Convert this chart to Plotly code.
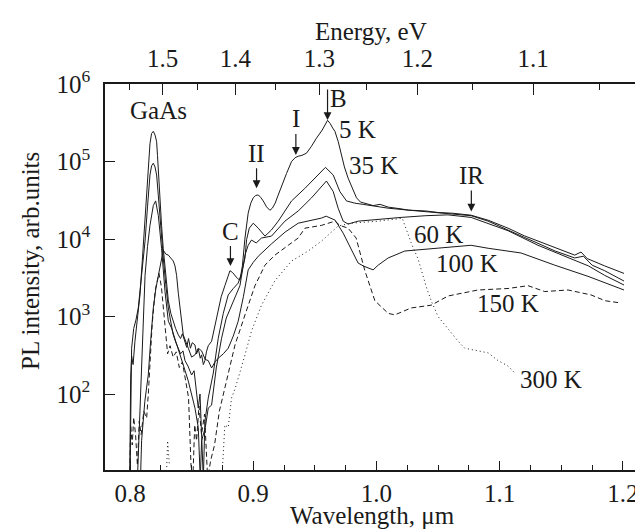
import plotly.graph_objects as go

# ---------------- data ----------------
wl_5K = [0.7998, 0.8005, 0.8013, 0.8025, 0.804, 0.806, 0.8081, 0.8102, 0.8122, 0.8135, 0.8148, 0.8162,
         0.8175, 0.8189, 0.8203, 0.8216, 0.8223, 0.8243, 0.8256, 0.827, 0.8284, 0.8297, 0.8311, 0.8331,
         0.8351, 0.837, 0.8392, 0.841, 0.8425, 0.8446, 0.846, 0.8475, 0.849, 0.8505, 0.8527, 0.854,
         0.8555, 0.857, 0.8581, 0.8595, 0.8608, 0.862, 0.8635, 0.8662, 0.869, 0.8716, 0.874, 0.877,
         0.879, 0.8811, 0.8832, 0.8852, 0.8872, 0.8892, 0.8912, 0.8933, 0.8946, 0.8959, 0.898, 0.9,
         0.902, 0.9041, 0.906, 0.9081, 0.9108, 0.9135, 0.9155, 0.9178, 0.92, 0.923, 0.927, 0.9311,
         0.934, 0.9365, 0.9395, 0.9432, 0.947, 0.9513, 0.956, 0.9603, 0.9624, 0.9645, 0.9663, 0.969,
         0.9716, 0.974, 0.977, 0.9805, 0.9838, 0.987, 0.9906, 0.9973, 1.003, 1.0095, 1.02, 1.0257,
         1.04, 1.05, 1.062, 1.0768, 1.0906, 1.1068, 1.12, 1.1311, 1.1473, 1.1609, 1.166, 1.171,
         1.1852, 1.2009]
I_5K = [8, 160, 310, 240, 480, 900, 1900, 6000, 1.86e4, 4.5e4, 1.0e5, 1.7e5,
        2.3e5, 2.45e5, 2.2e5, 1.8e5, 1.2e5, 3.0e4, 1.5e4, 7.5e3, 4.2e3, 2.5e3, 1.6e3, 1.1e3,
        870, 700, 580, 520, 600, 480, 400, 520, 390, 460, 430, 330,
        380, 290, 320, 240, 270, 350, 420, 480, 800, 1290, 1800, 2500,
        3200, 3900, 3700, 3400, 3100, 2950, 4500, 1.03e4, 1.6e4, 2.16e4, 2.9e4, 3.4e4,
        3.65e4, 3.7e4, 3.45e4, 3.1e4, 2.6e4, 2.35e4, 2.5e4, 2.9e4, 3.6e4, 4.9e4, 7.0e4, 1.0e5,
        1.12e5, 1.17e5, 1.2e5, 1.28e5, 1.55e5, 2.0e5, 2.55e5, 3.4e5, 3.1e5, 2.7e5, 2.45e5, 1.8e5,
        1.2e5, 8.5e4, 6.1e4, 4.4e4, 3.4e4, 3.0e4, 2.9e4, 2.7e4, 2.8e4, 2.58e4, 2.45e4, 2.36e4,
        2.3e4, 2.2e4, 2.15e4, 2.03e4, 1.75e4, 1.38e4, 1.1e4, 9.4e3, 7.6e3, 6.2e3, 6.8e3, 5.6e3,
        4.5e3, 3.6e3]

wl_35K = [0.8, 0.8008, 0.8013, 0.803, 0.8048, 0.8067, 0.8095, 0.8122, 0.8142, 0.8162, 0.8175, 0.8189,
          0.8203, 0.8216, 0.823, 0.8243, 0.8256, 0.827, 0.829, 0.8311, 0.8331, 0.8351, 0.837, 0.8392,
          0.841, 0.843, 0.8446, 0.847, 0.85, 0.852, 0.8538, 0.8554, 0.8568, 0.8581, 0.8595, 0.8608,
          0.8622, 0.8635, 0.8676, 0.8716, 0.8757, 0.8797, 0.8838, 0.8878, 0.8905, 0.8933, 0.8946, 0.8968,
          0.9, 0.9041, 0.9095, 0.9146, 0.9203, 0.9311, 0.9419, 0.9527, 0.9586, 0.9649, 0.9703, 0.9757,
          0.9825, 0.9892, 1.0095, 1.0257, 1.05, 1.0768, 1.0906, 1.1068, 1.12, 1.1311, 1.145, 1.1609,
          1.168, 1.175, 1.1852, 1.2009]
I_35K = [8, 200, 390, 700, 900, 1290, 3500, 9400, 2.6e4, 6.7e4, 8.8e4, 9.5e4,
         8.5e4, 6.7e4, 3.6e4, 1.86e4, 1.0e4, 5.7e3, 2.6e3, 1.29e3, 850, 580, 470, 390,
         330, 360, 270, 230, 176, 200, 120, 66, 100, 25, 8, 45,
         70, 89, 187, 525, 1100, 1900, 2300, 2700, 3600, 5700, 9800, 1.38e4,
         1.6e4, 1.38e4, 1.09e4, 1.3e4, 1.7e4, 3.1e4, 4.5e4, 6.7e4, 8.4e4, 6.7e4, 4.1e4, 3.1e4,
         2.9e4, 2.8e4, 2.5e4, 2.36e4, 2.16e4, 2.0e4, 1.7e4, 1.32e4, 1.05e4, 8.8e3, 7.0e3, 5.7e3,
         6.0e3, 4.6e3, 3.9e3, 2.87e3]

wl_60K = [0.806, 0.8094, 0.8108, 0.8122, 0.8142, 0.8162, 0.8189, 0.8208, 0.823, 0.8256, 0.8284, 0.8311,
          0.8337, 0.8365, 0.8392, 0.8419, 0.8447, 0.8473, 0.85, 0.8527, 0.8554, 0.857, 0.8581, 0.8611,
          0.8635, 0.8662, 0.87, 0.8743, 0.8781, 0.8824, 0.8862, 0.8892, 0.8933, 0.8959, 0.8986, 0.9024,
          0.9067, 0.9148, 0.9257, 0.9365, 0.9473, 0.9554, 0.9594, 0.9649, 0.9689, 0.973, 0.977, 0.9851,
          0.9932, 1.0014, 1.02, 1.04, 1.058, 1.0768, 1.0906, 1.1068, 1.1311, 1.1609, 1.172, 1.1852,
          1.2009]
I_60K = [8, 176, 900, 3400, 8000, 1.5e4, 2.7e4, 3.1e4, 2.0e4, 7.6e3, 2.1e3, 870,
         710, 520, 390, 270, 200, 147, 100, 66, 37, 8, 25, 37,
         66, 72, 217, 525, 955, 1400, 2000, 2500, 6200, 8300, 9700, 8900,
         1.03e4, 1.09e4, 1.7e4, 2.3e4, 3.4e4, 4.8e4, 5.6e4, 4.1e4, 2.5e4, 1.7e4, 1.56e4, 1.7e4,
         1.75e4, 1.8e4, 1.9e4, 2.0e4, 2.05e4, 1.9e4, 1.6e4, 1.28e4, 8.3e3, 5.3e3, 4.5e3, 3.4e3,
         2.55e3]

wl_100K = [0.8085, 0.8094, 0.812, 0.8148, 0.8168, 0.8189, 0.821, 0.823, 0.825, 0.827, 0.829, 0.8311,
           0.833, 0.8351, 0.8365, 0.8378, 0.8392, 0.8406, 0.8432, 0.8473, 0.85, 0.8527, 0.8554, 0.8581,
           0.861, 0.8635, 0.8662, 0.869, 0.8716, 0.8757, 0.8797, 0.8838, 0.8878, 0.892, 0.8959, 0.9,
           0.9041, 0.9146, 0.9259, 0.9365, 0.947, 0.9552, 0.9592, 0.9665, 0.973, 0.977, 0.9811, 0.9851,
           0.9892, 0.9932, 0.9973, 1.0014, 1.0095, 1.023, 1.05, 1.0768, 1.0906, 1.1174, 1.1447, 1.1717,
           1.2009]
I_100K = [8, 25, 80, 176, 500, 1290, 2300, 3400, 5000, 7200, 6400, 6200,
          5700, 5200, 4500, 3400, 2000, 1290, 580, 390, 300, 320, 390, 360,
          280, 270, 217, 260, 290, 330, 390, 560, 870, 1800, 4000, 5000,
          6000, 8600, 1.23e4, 1.6e4, 1.75e4, 1.86e4, 1.97e4, 1.75e4, 1.19e4, 8900, 6600, 4900,
          4500, 4200, 4000, 4600, 5700, 7000, 7600, 8300, 7600, 6600, 4600, 3300,
          2200]

wl_150K = [0.7998, 0.8005, 0.8018, 0.803, 0.8045, 0.806, 0.8075, 0.809, 0.8112, 0.8135, 0.815, 0.8165,
           0.818, 0.8205, 0.8235, 0.8255, 0.828, 0.8305, 0.8325, 0.835, 0.8375, 0.84, 0.8425, 0.845,
           0.8475, 0.8495, 0.851, 0.8525, 0.854, 0.856, 0.858, 0.8605, 0.863, 0.8655, 0.8686, 0.8725,
           0.877, 0.881, 0.8852, 0.8933, 0.9014, 0.9095, 0.9176, 0.9284, 0.9365, 0.9419, 0.9554, 0.9663,
           0.9703, 0.977, 0.9835, 0.9906, 0.9987, 1.0095, 1.0149, 1.0281, 1.0444, 1.0581, 1.0824, 1.1068,
           1.123, 1.1366, 1.1555, 1.1741, 1.1855, 1.1977]
I_150K = [8, 40, 22, 50, 30, 12, 45, 30, 60, 49, 110, 300,
          800, 2200, 3600, 2400, 900, 330, 420, 300, 350, 220, 260, 150,
          90, 12, 8, 40, 25, 70, 30, 55, 8, 14, 22, 60,
          120, 230, 430, 1050, 2500, 4600, 6200, 8300, 1.03e4, 1.38e4, 1.5e4, 1.7e4,
          1.5e4, 1.38e4, 1.03e4, 3900, 1600, 1100, 1050, 1290, 1400, 1840, 2200, 2300,
          2500, 2100, 2200, 1900, 1600, 1500]

wl_300K = [0.8295, 0.8305, 0.832, None, 0.8745, 0.877, 0.8797, 0.8824, 0.8855, 0.8892, 0.8933, 0.8986,
           0.9067, 0.9176, 0.9311, 0.9446, 0.9554, 0.9689, 0.9795, 1.0014, 1.021, 1.0281, 1.0338, 1.0405,
           1.0444, 1.05, 1.0663, 1.0717, 1.0825, 1.0906, 1.0987, 1.1068, 1.1122]
I_300K = [8, 25, 12, None, 8, 40, 37, 89, 120, 187, 320, 650,
          1400, 2900, 5200, 7000, 9400, 1.47e4, 1.6e4, 1.7e4, 1.85e4, 9000, 5500, 2400,
          1600, 1000, 480, 390, 360, 340, 270, 230, 187]

wavelength_ticks = [0.8, 0.9, 1.0, 1.1, 1.2]
wavelength_ticktext = ["0.8", "0.9", "1.0", "1.1", "1.2"]
intensity_ticks = [1e2, 1e3, 1e4, 1e5, 1e6]
intensity_ticktext = ["10<sup>2</sup>", "10<sup>3</sup>", "10<sup>4</sup>", "10<sup>5</sup>", "10<sup>6</sup>"]
energy_ticks = [1.5, 1.4, 1.3, 1.2, 1.1]
energy_ticktext = ["1.5", "1.4", "1.3", "1.2", "1.1"]
energy_minor = [1.55, 1.45, 1.35, 1.25, 1.15, 1.05]
HC = 1.2398  # eV*um

# ---------------- figure ----------------
INK = "#1a1a1a"
FONT = "Liberation Serif"
fig = go.Figure()

series = [
    (wl_5K, I_5K, "solid"),
    (wl_35K, I_35K, "solid"),
    (wl_60K, I_60K, "solid"),
    (wl_100K, I_100K, "solid"),
    (wl_150K, I_150K, "5px,3px"),
    (wl_300K, I_300K, "1px,3px"),
]
for wl, I, dash in series:
    fig.add_trace(go.Scatter(x=wl, y=I, mode="lines", showlegend=False, hoverinfo="skip",
                             line=dict(color=INK, width=1, dash=dash)))

XR = [0.7797, 1.2155]
axis_common = dict(showline=True, linecolor=INK, linewidth=1.6, showgrid=False, zeroline=False,
                   tickcolor=INK, tickfont=dict(family=FONT, size=25, color=INK))

fig.update_layout(
    width=643, height=530,
    margin=dict(l=97, r=9, t=76, b=68, autoexpand=False),
    paper_bgcolor="white", plot_bgcolor="white",
    font=dict(family=FONT, size=25, color=INK),
    xaxis=dict(range=XR, tickvals=wavelength_ticks, ticktext=wavelength_ticktext,
               ticks="inside", ticklen=9, tickwidth=1.3,
               minor=dict(dtick=0.025, tick0=0.8, ticks="inside", ticklen=5, tickwidth=1.2, tickcolor=INK),
               **axis_common),
    xaxis2=dict(range=XR, overlaying="x", side="top",
                tickvals=[HC / e for e in energy_ticks], ticktext=energy_ticktext,
                ticks="inside", ticklen=11, tickwidth=1.3, ticklabelstandoff=5, **axis_common),
    xaxis3=dict(range=XR, overlaying="x", side="top", showticklabels=False,
                tickvals=[HC / e for e in energy_minor],
                ticks="inside", ticklen=6, tickwidth=1.2,
                showline=False, showgrid=False, zeroline=False, tickcolor=INK),
    yaxis=dict(type="log", range=[1.02, 6.0], tickvals=intensity_ticks, ticktext=intensity_ticktext,
               ticks="inside", ticklen=10, tickwidth=1.3, mirror=True, ticklabelstandoff=8, **axis_common),
)

fig.add_trace(go.Scatter(x=[None], y=[None], xaxis="x2", showlegend=False, hoverinfo="skip"))
fig.add_trace(go.Scatter(x=[None], y=[None], xaxis="x3", showlegend=False, hoverinfo="skip"))

title_font = dict(family=FONT, size=25, color=INK)
fig.add_annotation(text="Wavelength, \u03bcm", xref="paper", yref="paper", x=0.499, y=-0.117,
                   showarrow=False, font=title_font, xanchor="center", yanchor="middle")
fig.add_annotation(text="Energy, eV", xref="paper", yref="paper", x=0.4953, y=1.137,
                   showarrow=False, font=title_font, xanchor="center", yanchor="middle")
fig.add_annotation(text="PL intensity, arb.units", xref="paper", yref="paper", x=-0.1378, y=0.5415,
                   textangle=-90, showarrow=False, font=title_font, xanchor="center", yanchor="middle")

# plain labels (x in um, y in log10 units)
labels = [("GaAs", 0.823, 5.661), ("B", 0.9693, 5.816), ("5 K", 0.9843, 5.416), ("35 K", 0.9973, 4.952),
          ("60 K", 1.05, 4.063), ("100 K", 1.0736, 3.689), ("150 K", 1.1068, 3.174), ("300 K", 1.1413, 2.194)]
for t, x, y in labels:
    fig.add_annotation(text=t, x=x, y=y, xref="x", yref="y", showarrow=False,
                       font=title_font, xanchor="center", yanchor="middle")

# labels with an arrow below them: text, arrow tip (um, log10), px from tip up to label centre
arrow_labels = [("C", 0.8815, 3.651, 35), ("II", 0.9027, 4.656, 35), ("I", 0.9346, 5.085, 36),
                ("IR", 1.077, 4.356, 36)]
for t, x, y, L in arrow_labels:
    fig.add_annotation(text=t, x=x, y=y, xref="x", yref="y", ax=0, ay=-L, showarrow=True,
                       font=title_font, arrowhead=2, arrowsize=1.3, arrowwidth=1.2, arrowcolor=INK, standoff=0)
# arrow of B (its letter sits beside it)
fig.add_annotation(x=0.9603, y=5.536, xref="x", yref="y", ax=0, ay=-32, text="", showarrow=True,
                   arrowhead=2, arrowsize=1.3, arrowwidth=1.2, arrowcolor=INK, standoff=0)

fig.write_html("out.html")
